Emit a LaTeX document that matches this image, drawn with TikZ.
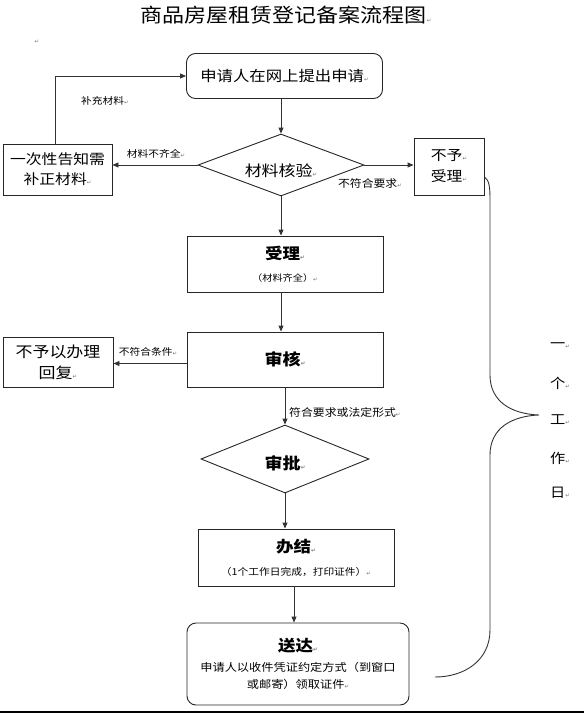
\documentclass[tikz,border=0pt]{standalone}
\usepackage{fontspec}
\setmainfont[FakeStretch=1.13]{Noto Sans CJK SC}
\newfontfamily\symfont{DejaVu Sans}
\usetikzlibrary{shapes.geometric,arrows.meta}
\newcommand\rmk{{\symfont\fontsize{5.5}{6}\selectfont\textcolor{black!55}{↵}}}
\newcommand\fs[2]{\fontsize{#1}{#2}\selectfont}
\begin{document}
\begin{tikzpicture}[x=1pt,y=-1pt,
  line/.style={draw=black!80, line width=0.9pt},
  arr/.style={line, -{Triangle[length=6pt,width=5pt]}},
  box/.style={draw=black!85, line width=0.9pt, rectangle, inner sep=0pt, align=center},
  rbox/.style={box, rounded corners=9pt},
  dia/.style={draw=black!85, line width=0.9pt, diamond, inner sep=0pt},
  lbl/.style={inner sep=0pt, font=\fs{9.5}{11}},
]
\useasboundingbox (0,0) rectangle (584,713);
\fill[black] (0,710.5) rectangle (584,713);
\node[inner sep=0pt] (title) at (286,15) {\fs{19.5}{22}商品房屋租赁登记备案流程图\rmk};
\node[inner sep=0pt] (mk) at (37,42) {\rmk};
\node[rbox, minimum width=196, minimum height=45] (apply) at (284.5,76) {\fs{14.5}{18}申请人在网上提出申请\rmk};
\node[dia, aspect=2.68, minimum width=166, minimum height=62,
  label={[inner sep=0pt, yshift=-6pt]center:{\fs{15}{18}材料核验\rmk}}] (check) at (281,165) {};
\node[box, minimum width=109, minimum height=51, font=\fs{14}{20}] (notify) at (57.5,169.5) {一次性告知需\\补正材料\rmk};
\node[box, minimum width=70, minimum height=57, font=\fs{14}{21}] (rej1) at (449,166.5) {不予\rmk\\受理\rmk};
\node[box, minimum width=196, minimum height=56, font=\fs{10}{22}] (accept) at (285,264) {{\fs{15.5}{18}\bfseries 受理\rmk}\\{\fs{9}{11}（材料齐全）\rmk}};
\node[box, minimum width=196, minimum height=55] (review) at (285,359.5) {\fs{16}{18}\bfseries 审核\rmk};
\node[box, minimum width=110, minimum height=50, font=\fs{15}{21}] (rej2) at (58,362) {不予以办理\\回复\rmk};
\node[dia, aspect=2.47, minimum width=168, minimum height=68,
  label={[inner sep=0pt, yshift=-4pt]center:{\fs{16}{18}\bfseries 审批\rmk}}] (approve) at (285,459) {};
\node[box, minimum width=196, minimum height=57, font=\fs{10}{23}] (finish) at (296,557.5) {{\fs{15.5}{18}\bfseries 办结\rmk}\\{\fs{9.5}{11}（1个工作日完成，打印证件）\rmk}};
\node[rbox, minimum width=222, minimum height=82, font=\fs{10}{17}] (deliver) at (298,664) {{\fs{15.5}{18}\bfseries 送达\rmk}\\[3pt]{\fs{10.8}{13}申请人以收件凭证约定方式（到窗口}\\{\fs{10.8}{13}或邮寄）领取证件\rmk}};
% connectors
\draw[arr] (apply.south -| check.north) -- (check.north);
\draw[arr] (check.south) -- (check.south |- accept.north);
\draw[arr] (accept.south -| check.south) -- (review.north -| check.south);
\draw[arr] (review.south -| approve.north) -- (approve.north);
\draw[arr] (approve.south) -- (approve.south |- finish.north);
\draw[arr] ([xshift=-2pt]finish.south) -- ([xshift=-2pt]finish.south |- deliver.north);
\draw[arr] (check.west) -- (check.west -| notify.east);
\draw[arr] (check.east) -- (check.east -| rej1.west);
\draw[arr] ([xshift=-2.5pt]notify.north) |- (apply.west);
\draw[arr] ([yshift=-4pt]review.west) -- ([yshift=-4pt]review.west -| rej2.east);
% labels
\node[lbl] (l1) at (105,101) {补充材料\rmk};
\node[lbl] (l2) at (156,154) {材料不齐全\rmk};
\node[lbl, font=\fs{10.5}{12}] (l3) at (370,183) {不符合要求\rmk};
\node[lbl] (l4) at (148,352) {不符合条件\rmk};
\node[lbl, font=\fs{10.5}{12}, anchor=west] (l5) at (289,412) {符合要求或法定形式\rmk};
% brace
\coordinate (bEnd) at (435,677);
\draw[line] ([yshift=-10.5pt]rej1.east) .. controls +(5,3) and (490,188) .. (490,200) -- (490,375)
  .. controls (490,402) and (512,414) .. (539,415)
  .. controls (512,416) and (490,428) .. (490,455) -- (490,630)
  .. controls (490,660) and (465,677) .. (bEnd);
\foreach \c/\yy [count=\i] in {一/346,个/383,工/420,作/458,日/493}
  \node[lbl, font=\fs{13.5}{15}] (v\i) at (560,\yy) {\c\rmk};
\end{tikzpicture}
\end{document}
